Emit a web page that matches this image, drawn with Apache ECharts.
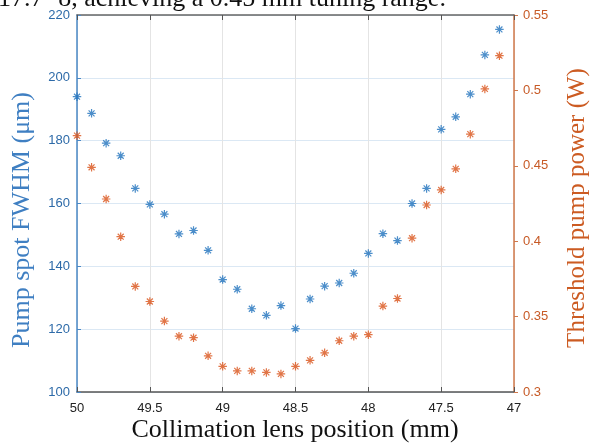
<!DOCTYPE html>
<html>
<head>
<meta charset="utf-8">
<script src="https://cdn.jsdelivr.net/npm/echarts@6/dist/echarts.min.js"></script>
<style>
  html, body { margin: 0; padding: 0; background: #fff; }
  #chart { width: 590px; height: 443px; }
</style>
</head>
<body>
<div id="chart"></div>
<script>
// lens positions (mm)
var positions = [50, 49.9, 49.8, 49.7, 49.6, 49.5, 49.4, 49.3, 49.2, 49.1,
  49, 48.9, 48.8, 48.7, 48.6, 48.5, 48.4, 48.3, 48.2, 48.1,
  48, 47.9, 47.8, 47.7, 47.6, 47.5, 47.4, 47.3, 47.2, 47.1];
// pump spot FWHM (um)
var fwhm = [194.0, 188.7, 179.2, 175.2, 164.8, 159.7, 156.6, 150.3, 151.4, 145.1,
  135.8, 132.7, 126.5, 124.4, 127.5, 120.2, 129.6, 133.7, 134.7, 137.8,
  144.1, 150.4, 148.2, 160.0, 164.8, 183.6, 187.6, 194.8, 207.3, 215.4];
// threshold pump power (W)
var power = [0.470, 0.449, 0.428, 0.403, 0.370, 0.360, 0.347, 0.337, 0.336, 0.324,
  0.317, 0.314, 0.314, 0.313, 0.312, 0.317, 0.321, 0.326, 0.334, 0.337,
  0.338, 0.357, 0.362, 0.402, 0.424, 0.434, 0.448, 0.471, 0.501, 0.523];

var blue = '#1f72bd';
var orange = '#d95319';
var star = 'path://M0,-10L0,10M-10,0L10,0M-7,-7L7,7M-7,7L7,-7';

function pairs(ys) {
  return positions.map(function (x, i) { return [x, ys[i]]; });
}

var chart = echarts.init(document.getElementById('chart'));

chart.setOption({
  animation: false,
  grid: { left: 77, right: 76, top: 15, bottom: 51 },
  graphic: [
    {
      type: 'text', left: -2, top: -14,
      style: { text: '17.7\u22128, achieving a 0.45 mm tuning range.', font: '26px "Liberation Serif"', fill: '#111' }
    },
    {
      type: 'text', x: 295, y: 430,
      style: { text: 'Collimation lens position (mm)', font: '26px "Liberation Serif"', fill: '#111', align: 'center', verticalAlign: 'middle' }
    },
    {
      type: 'text', x: 22, y: 220, rotation: Math.PI / 2,
      style: { text: 'Pump spot FWHM (\u03bcm)', font: '26px "Liberation Serif"', fill: '#3f7fc2', align: 'center', verticalAlign: 'middle' }
    },
    {
      type: 'text', x: 577, y: 208, rotation: Math.PI / 2,
      style: { text: 'Threshold pump power (W)', font: '25px "Liberation Serif"', fill: '#cc5b22', align: 'center', verticalAlign: 'middle' }
    }
  ],
  xAxis: [
    {
      type: 'value', min: 47, max: 50, interval: 0.5, inverse: true,
      axisLine: { lineStyle: { color: '#555', width: 1.5 } },
      axisTick: { inside: true, length: 5, lineStyle: { color: '#555' } },
      axisLabel: { color: '#222', fontSize: 13, fontFamily: 'Liberation Sans', margin: 10 },
      splitLine: { show: true, lineStyle: { color: '#e4e4e4' } }
    },
    {
      type: 'value', position: 'top', min: 47, max: 50, interval: 0.5, inverse: true,
      axisLine: { lineStyle: { color: '#666', width: 1.5 } },
      axisTick: { inside: true, length: 5, lineStyle: { color: '#555' } },
      axisLabel: { show: false },
      splitLine: { show: false }
    }
  ],
  yAxis: [
    {
      type: 'value', min: 100, max: 220, interval: 20,
      axisLine: { show: true, lineStyle: { color: '#4a88c6', width: 1.5 } },
      axisTick: { show: true, inside: true, length: 4, lineStyle: { color: '#4a88c6' } },
      axisLabel: { color: '#2d6aa8', fontSize: 13, fontFamily: 'Liberation Sans', margin: 7 },
      splitLine: { show: true, lineStyle: { color: '#dbe8f4' } }
    },
    {
      type: 'value', min: 0.3, max: 0.55, interval: 0.05,
      axisLine: { show: true, lineStyle: { color: '#d0784a', width: 1.5 } },
      axisTick: { show: true, length: 4, lineStyle: { color: '#d0784a' } },
      axisLabel: { color: '#c75a26', fontSize: 13, fontFamily: 'Liberation Sans', margin: 9 },
      splitLine: { show: false }
    }
  ],
  series: [
    {
      name: 'Threshold pump power', type: 'scatter', yAxisIndex: 1,
      symbol: star, symbolSize: 8.5,
      itemStyle: { color: 'transparent', borderColor: orange, borderWidth: 1.2 },
      data: pairs(power)
    },
    {
      name: 'Pump spot FWHM', type: 'scatter', yAxisIndex: 0,
      symbol: star, symbolSize: 8.5,
      itemStyle: { color: 'transparent', borderColor: blue, borderWidth: 1.2 },
      data: pairs(fwhm)
    }
  ]
});
</script>
</body>
</html>
